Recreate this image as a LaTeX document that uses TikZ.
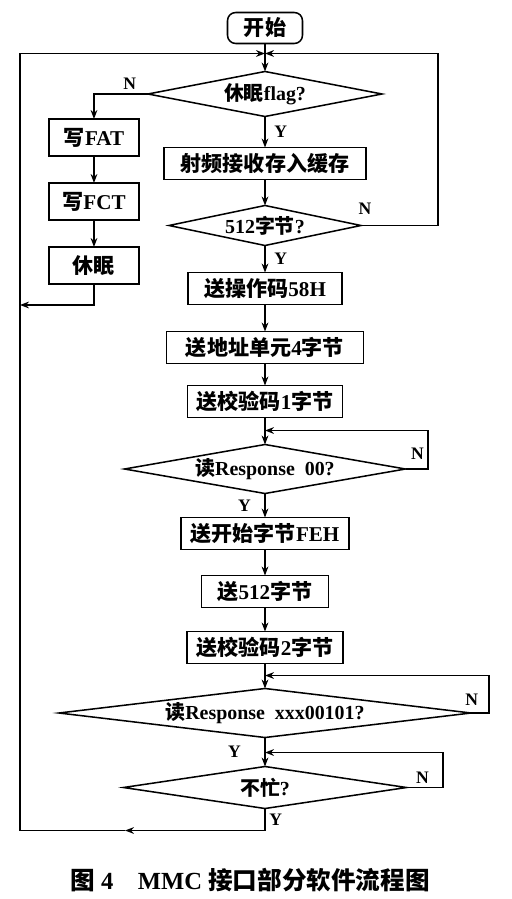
\documentclass[tikz,border=0pt]{standalone}
\usepackage{fontspec}
\setmainfont{Liberation Serif}
\newfontfamily\cjk{Noto Sans CJK SC}
\newcommand{\zhtxt}[1]{{\cjk #1}}
\usetikzlibrary{arrows.meta, positioning, shapes.geometric}

\begin{document}
\begin{tikzpicture}[
    node distance=0.78cm,
    box/.style={draw, line width=1.3pt, outer sep=0pt, minimum height=0.96cm, inner sep=2pt, font=\bfseries\fontsize{18}{21}\selectfont},
    term/.style={box, rounded corners=7pt, minimum width=2.25cm, minimum height=0.93cm},
    side/.style={box, minimum width=2.7cm, minimum height=1.11cm},
    dec/.style={box, diamond, inner sep=0pt, font=\bfseries\fontsize{17}{20}\selectfont},
    lbl/.style={font=\bfseries\fontsize{15}{15}\selectfont, inner sep=3pt},
    arrow/.style={-{Stealth[length=2.7mm]}, line width=1.3pt},
    line/.style={line width=1.3pt},
]
    \useasboundingbox (-7.95,0.84) rectangle (7.38,-26.13);

    % main column
    \node[term] (start) at (0,0) {\zhtxt{开始}};
    \node[dec, minimum width=7.02cm, minimum height=1.35cm, aspect=5.2, below=0.84cm of start] (flag) {\zhtxt{休眠}flag?};
    \node[box, minimum width=6.06cm, below=0.93cm of flag] (rf) {\zhtxt{射频接收存入缓存}};
    \node[dec, minimum width=5.76cm, minimum height=1.2cm, aspect=4.8, below=0.78cm of rf] (d512) {512\zhtxt{字节}?};
    \node[box, minimum width=4.62cm, below=0.81cm of d512] (op58) {\zhtxt{送操作码}58H};
    \node[box, minimum width=5.91cm, below=0.81cm of op58] (addr) {\zhtxt{送地址单元}4\zhtxt{字节}};
    \node[box, minimum width=4.65cm, below=0.66cm of addr] (crc1) {\zhtxt{送校验码}1\zhtxt{字节}};
    \node[dec, minimum width=8.43cm, minimum height=1.47cm, aspect=5.73, below=0.81cm of crc1] (resp00) {\zhtxt{读}Response\enspace 00?};
    \node[box, minimum width=5.04cm, below=0.72cm of resp00] (feh) {\zhtxt{送开始字节}FEH};
    \node[box, minimum width=3.81cm, below=0.78cm of feh] (s512) {\zhtxt{送}512\zhtxt{字节}};
    \node[box, minimum width=4.68cm, below=0.72cm of s512] (crc2) {\zhtxt{送校验码}2\zhtxt{字节}};
    \node[dec, minimum width=12.36cm, minimum height=1.47cm, aspect=8.4, below=0.75cm of crc2] (respx) {\zhtxt{读}Response\enspace xxx00101?};
    \node[dec, minimum width=8.49cm, minimum height=1.26cm, aspect=6.74, below=0.87cm of respx] (busy) {\zhtxt{不忙}?};

    % sleep branch
    \node[side, below left=0.75cm and 0.27cm of flag.west] (fat) {\zhtxt{写}FAT};
    \node[side, below=0.81cm of fat] (fct) {\zhtxt{写}FCT};
    \node[side, below=0.81cm of fct] (sleep) {\zhtxt{休眠}};

    \node[font=\bfseries\fontsize{21}{24}\selectfont] (cap) at (-0.45,-25.56) {\zhtxt{图} 4\quad MMC \zhtxt{接口部分软件流程图}};

    % join points
    \coordinate[above=0.54cm of flag] (j);
    \coordinate[above=0.42cm of resp00] (m00);
    \coordinate[above=0.39cm of respx] (mx);
    \coordinate[above=0.42cm of busy] (mb);
    \coordinate[below=0.66cm of busy] (b0);
    \coordinate[left=4.2cm of b0] (b1);
    \coordinate[left=7.35cm of b0] (b2);
    \coordinate[below=0.63cm of sleep] (s0);

    \draw[line] (start) -- (j);
    \draw[arrow] (j) -- (flag);
    \draw[arrow] (flag.west) -| node[lbl, pos=0.17, above] {N} (fat.north);
    \draw[arrow] (fat) -- (fct);
    \draw[arrow] (fct) -- (sleep);
    \draw[arrow] (sleep) -- (s0) -- (s0 -| b2);
    \draw[arrow] (flag) -- node[lbl, right, xshift=0.15cm] {Y} (rf);
    \draw[arrow] (rf) -- (d512);
    \draw[arrow] (d512.east) -- node[lbl, pos=0.05, above, yshift=0.2cm] {N} ++(2.31,0) |- (j);
    \draw[arrow] (d512) -- node[lbl, right, xshift=0.15cm] {Y} (op58);
    \draw[arrow] (op58) -- (addr);
    \draw[arrow] (addr) -- (crc1);
    \draw[arrow] (crc1) -- (resp00);
    \draw[arrow] (resp00.east) -- ++(0.675,0) node[lbl, above left, yshift=0.15cm] {N} |- (m00);
    \draw[arrow] (resp00) -- node[lbl, left, xshift=-0.3cm] {Y} (feh);
    \draw[arrow] (feh) -- (s512);
    \draw[arrow] (s512) -- (crc2);
    \draw[arrow] (crc2) -- (respx);
    \draw[arrow] (respx.east) -- ++(0.54,0) node[lbl, above left, xshift=-0.2cm, yshift=0.1cm] {N} |- (mx);
    \draw[arrow] (respx) -- node[lbl, left, xshift=-0.6cm] {Y} (busy);
    \draw[arrow] (busy.east) -- ++(1.1,0) node[lbl, above left, xshift=-0.3cm] {N} |- (mb);
    \draw[arrow] (busy) -- node[lbl, right] {Y} (b0) -- (b1);
    \draw[arrow] (b1) -- (b2) |- (j);
\end{tikzpicture}
\end{document}
